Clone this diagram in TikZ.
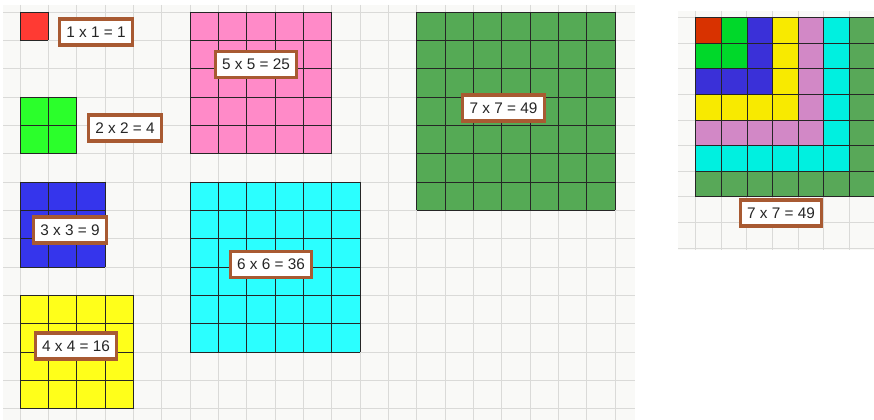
\documentclass[tikz,border=0pt]{standalone}
\usepackage{fontspec}
\setmainfont{Liberation Sans}
\usepackage{tikz}
\usepackage{xcolor}
\usetikzlibrary{positioning,calc}
\definecolor{paper}{HTML}{F9F9F7}
\definecolor{gridgray}{HTML}{DADAD8}
\definecolor{boxbrown}{HTML}{A85A32}
% left squares
\definecolor{lc1}{HTML}{FF3A33}
\definecolor{lc2}{HTML}{2BFF2B}
\definecolor{lc3}{HTML}{3535EC}
\definecolor{lc4}{HTML}{FFFF1A}
\definecolor{lc5}{HTML}{FF8AC8}
\definecolor{lc6}{HTML}{2BFFFF}
\definecolor{lc7}{HTML}{55AA55}
% right square, by layer
\definecolor{rc0}{HTML}{D83200}
\definecolor{rc1}{HTML}{00D82A}
\definecolor{rc2}{HTML}{3A30D8}
\definecolor{rc3}{HTML}{F8EA00}
\definecolor{rc4}{HTML}{D288C6}
\definecolor{rc5}{HTML}{00F0E0}
\definecolor{rc6}{HTML}{58A858}

\begin{document}
\begin{tikzpicture}[
  x=0.75pt, y=-0.75pt,
  gridline/.style={draw=gridgray, line width=0.65pt},
  cellline/.style={draw=black!85, line width=0.6pt},
  sumbox/.style={draw=boxbrown, fill=white, line width=2.3pt,
    inner xsep=5.2pt, inner ysep=0pt, minimum height=19.5pt,
    font=\fontsize{11.5}{13}\selectfont\color{black!85}},
]
\useasboundingbox (0,0) rectangle (874,420);
% left sheet: origin (20,12), cell 28.33px
\def\cs{28.33}\def\ox{20}\def\oy{12}
\fill[paper] (3,5) rectangle (634.5,420);
\foreach \k in {0,...,21} {
  \pgfmathsetmacro{\x}{\ox + \k*\cs}
  \draw[gridline] (\x,5) -- (\x,420);
}
\foreach \k in {0,...,14} {
  \pgfmathsetmacro{\y}{\oy + \k*\cs}
  \draw[gridline] (3,\y) -- (634.5,\y);
}

% squares n x n at cell (col,row)
\foreach \n/\c/\r in {1/0/0, 2/0/3, 3/0/6, 4/0/10, 5/6/0, 6/6/6, 7/14/0} {
  \pgfmathsetmacro{\xa}{\ox + \c*\cs}
  \pgfmathsetmacro{\ya}{\oy + \r*\cs}
  \pgfmathsetmacro{\side}{\n*\cs}
  \fill[lc\n] (\xa,\ya) rectangle ++(\side,\side);
  \foreach \k in {0,...,\n} {
    \draw[cellline] (\xa+\k*\cs,\ya) -- ++(0,\side);
    \draw[cellline] (\xa,\ya+\k*\cs) -- ++(\side,0);
  }
}

% labels
\node[sumbox] (sq1) at (96,32)    {1 x 1 = 1};
\node[sumbox] (sq2) at (125,128)  {2 x 2 = 4};
\node[sumbox] (sq3) at (70,230)   {3 x 3 = 9};
\node[sumbox] (sq4) at (76,346)   {4 x 4 = 16};
\node[sumbox] (sq5) at (256,64.5) {5 x 5 = 25};
\node[sumbox] (sq6) at (271,264.5){6 x 6 = 36};
\node[sumbox] (sq7) at (503.5,108){7 x 7 = 49};

% right sheet: origin (695.7,17.7), cell 25.6px
\def\rs{25.6}\def\rx{695.7}\def\ry{17.7}
\fill[paper] (678,11) rectangle (874,250);
\foreach \k in {0,...,6} {
  \pgfmathsetmacro{\x}{\rx + \k*\rs}
  \draw[gridline] (\x,11) -- (\x,250);
}
\foreach \k in {0,...,9} {
  \pgfmathsetmacro{\y}{\ry + \k*\rs}
  \draw[gridline] (678,\y) -- (874,\y);
}
% nested layers: colour = max(col,row)
\begin{scope}
  \clip (678,0) rectangle (874,420);
  \foreach \i in {0,...,6} {
    \foreach \j in {0,...,6} {
      \pgfmathtruncatemacro{\m}{max(\i,\j)}
      \pgfmathsetmacro{\xa}{\rx + \i*\rs}
      \pgfmathsetmacro{\ya}{\ry + \j*\rs}
      \filldraw[fill=rc\m, cellline] (\xa,\ya) rectangle ++(\rs,\rs);
    }
  }
\end{scope}
\node[sumbox] (total) at (781,213) {7 x 7 = 49};
\end{tikzpicture}
\end{document}
